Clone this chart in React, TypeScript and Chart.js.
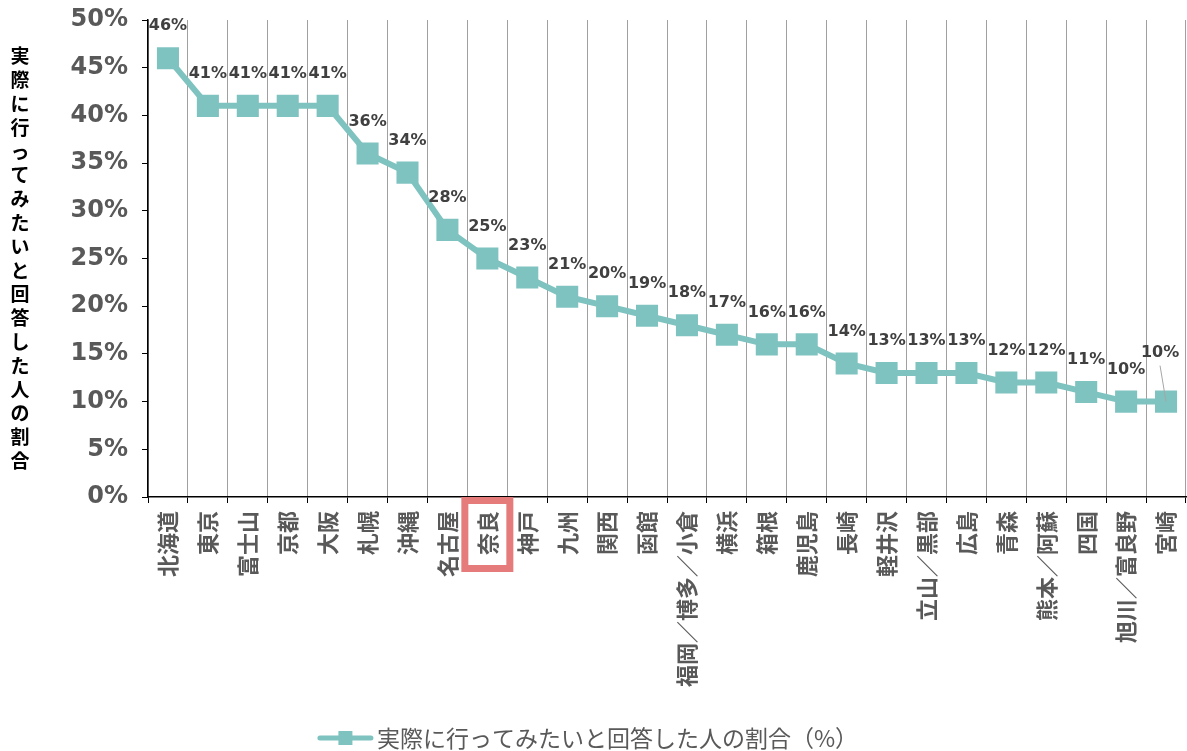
import { useEffect, useRef } from 'react';
import { Chart, registerables } from 'chart.js';

Chart.register(...registerables);

const categories = ['北海道', '東京', '富士山', '京都', '大阪', '札幌', '沖縄', '名古屋', '奈良', '神戸', '九州', '関西', '函館', '福岡／博多／小倉', '横浜', '箱根', '鹿児島', '長崎', '軽井沢', '立山／黒部', '広島', '青森', '熊本／阿蘇', '四国', '旭川／富良野', '宮崎'];
const values = [46, 41, 41, 41, 41, 36, 34, 28, 25, 23, 21, 20, 19, 18, 17, 16, 16, 14, 13, 13, 13, 12, 12, 11, 10, 10];
const yTickValues = [0, 5, 10, 15, 20, 25, 30, 35, 40, 45, 50];
const yTitle = '実際に行ってみたいと回答した人の割合';
const seriesName = '実際に行ってみたいと回答した人の割合（%）';
const highlightCategory = '奈良';

const TEAL = '#7fc3c0';
const GRAY_TEXT = '#595959';
const LABEL_TEXT = '#404040';
const CJK = '"Noto Sans CJK JP", "Noto Sans", sans-serif';
const NUM = '"DejaVu Sans", sans-serif';

const zeroPadding = () => ({ left: 0, top: 0, right: 0, bottom: 0 });

const overlayPlugin = {
  id: 'overlay',
  afterDatasetsDraw(chart: any) {
    const ctx = chart.ctx;
    const meta = chart.getDatasetMeta(0);
    ctx.save();
    ctx.font = `bold 16px ${NUM}`;
    ctx.fillStyle = LABEL_TEXT;
    ctx.textAlign = 'center';
    ctx.textBaseline = 'middle';
    const last = values.length - 1;
    meta.data.forEach((pt: any, i: number) => {
      const txt = values[i] + '%';
      if (i === last) {
        const lx = pt.x - 6;
        const ly = pt.y - 49;
        ctx.fillText(txt, lx, ly);
        ctx.strokeStyle = '#a6a6a6';
        ctx.lineWidth = 1;
        ctx.beginPath();
        ctx.moveTo(lx, ly + 13);
        ctx.lineTo(pt.x, pt.y);
        ctx.stroke();
      } else {
        ctx.fillText(txt, pt.x, pt.y - 32);
      }
    });
    ctx.restore();
  },
  afterDraw(chart: any) {
    const ctx = chart.ctx;
    const xs = chart.scales.x;
    const area = chart.chartArea;
    ctx.save();
    // highlight box
    const hi = categories.indexOf(highlightCategory);
    const hx = xs.getPixelForValue(hi);
    ctx.strokeStyle = '#e57b7b';
    ctx.lineWidth = 7;
    ctx.strokeRect(hx - 22.5, area.bottom + 3.5, 45, 68);

    // vertical y title (upright characters)
    ctx.font = `bold 19px ${CJK}`;
    ctx.fillStyle = '#000000';
    ctx.textAlign = 'center';
    ctx.textBaseline = 'middle';
    const chars = Array.from(yTitle);
    const pitch = 23.8;
    const startY = (area.top + area.bottom) / 2 - ((chars.length - 1) * pitch) / 2;
    chars.forEach((c, i) => ctx.fillText(c, 20, startY + i * pitch));

    // legend
    ctx.font = `23px ${CJK}`;
    const tw = ctx.measureText(seriesName).width;
    const iconW = 57;
    const gap = 3;
    const total = iconW + gap + tw;
    const lx = chart.width / 2 - 6 - total / 2;
    const ly = 738;
    ctx.strokeStyle = TEAL;
    ctx.lineWidth = 5;
    ctx.lineCap = 'round';
    ctx.beginPath();
    ctx.moveTo(lx + 3, ly);
    ctx.lineTo(lx + iconW - 3, ly);
    ctx.stroke();
    ctx.fillStyle = TEAL;
    ctx.fillRect(lx + iconW / 2 - 7, ly - 7, 14, 14);
    ctx.fillStyle = GRAY_TEXT;
    ctx.textAlign = 'left';
    ctx.textBaseline = 'middle';
    ctx.fillText(seriesName, lx + iconW + gap, ly);
    ctx.restore();
  },
};

export default function App() {
  const ref = useRef<HTMLCanvasElement | null>(null);
  useEffect(() => {
    if (!ref.current) return;
    const chart = new Chart(ref.current, {
      type: 'line',
      data: {
        labels: categories,
        datasets: [
          {
            label: seriesName,
            data: values,
            borderColor: TEAL,
            backgroundColor: TEAL,
            borderWidth: 6,
            tension: 0,
            pointStyle: 'rect',
            pointRadius: 15.6,
            pointHoverRadius: 15.6,
            pointBorderWidth: 0,
            pointBackgroundColor: TEAL,
          },
        ],
      },
      options: {
        animation: false,
        responsive: false,
        maintainAspectRatio: false,
        layout: { autoPadding: false, padding: { top: 20, right: 1, left: 0, bottom: 0 } },
        plugins: {
          legend: { display: false },
          tooltip: { enabled: false },
          title: { display: false },
        },
        scales: {
          x: {
            type: 'category',
            offset: true,
            grid: {
              offset: true,
              display: true,
              drawOnChartArea: true,
              drawTicks: true,
              color: '#a0a0a0',
              lineWidth: 1,
              tickColor: '#000000',
              tickLength: 6,
            },
            border: { display: true, color: '#000000', width: 1.5 },
            ticks: {
              autoSkip: false,
              maxRotation: 90,
              minRotation: 90,
              padding: 8,
              color: GRAY_TEXT,
              font: { family: CJK, size: 22, weight: 'bold', lineHeight: 0.5 },
            },
            afterFit(scale: any) {
              scale.height = 254;
              scale.paddingLeft = 0;
              scale.paddingRight = 0;
              scale.getPadding = zeroPadding;
            },
          },
          y: {
            min: 0,
            max: 50,
            afterBuildTicks(scale: any) {
              scale.ticks = yTickValues.map((v) => ({ value: v }));
            },
            grid: {
              drawOnChartArea: false,
              drawTicks: true,
              tickLength: 6,
              tickColor: '#000000',
            },
            border: { display: true, color: '#000000', width: 1.5 },
            ticks: {
              padding: 14,
              color: GRAY_TEXT,
              font: { family: NUM, size: 24, weight: 'bold' },
              callback: (v: any) => v + '%',
            },
            afterFit(scale: any) {
              scale.width = 148;
              scale.paddingTop = 0;
              scale.paddingBottom = 0;
              scale.getPadding = zeroPadding;
            },
          },
        },
      },
      plugins: [overlayPlugin],
    });
    return () => chart.destroy();
  }, []);
  return (
    <div style={{ position: 'absolute', left: 0, top: 0, width: 1187, height: 751, background: '#ffffff' }}>
      <canvas ref={ref} width={1187} height={751} style={{ width: 1187, height: 751, display: 'block' }} />
    </div>
  );
}
